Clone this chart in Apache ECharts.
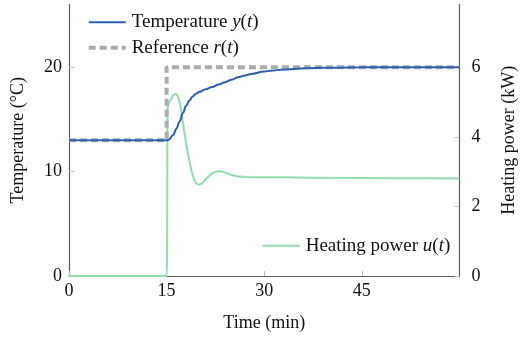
<!DOCTYPE html>
<html>
<head>
<meta charset="utf-8">
<script src="https://cdn.jsdelivr.net/npm/echarts@6/dist/echarts.min.js"></script>
<style>
  html, body { margin: 0; padding: 0; background: #fff; }
  #chart { width: 527px; height: 337px; }
</style>
</head>
<body>
<div id="chart"></div>
<script>
// time axis in minutes
var tempTime = [0, 15, 15.3, 16, 16.5, 17, 17.5, 18, 18.5, 19, 19.5, 20, 21, 22, 23, 24, 25, 26, 27, 28, 30, 31, 33, 35, 38, 40, 45, 50, 55, 60];
var tempValues = [13, 13, 13.02, 13.5, 14.1, 14.8, 15.6, 16.3, 16.8, 17.2, 17.45, 17.62, 17.88, 18.1, 18.33, 18.56, 18.8, 19.03, 19.2, 19.35, 19.58, 19.66, 19.77, 19.85, 19.92, 19.95, 19.99, 20, 20, 20];

var refTime = [0, 15, 15, 60];
var refValues = [13, 13, 20, 20];

var powerTime = [0, 15, 15.15, 15.3, 15.6, 16, 16.4, 16.8, 17.2, 17.6, 18, 18.5, 19, 19.5, 20, 20.5, 21, 22, 23, 24, 25, 26, 27, 28, 30, 35, 40, 50, 60];
var powerValues = [0, 0, 4.8, 4.95, 5.05, 5.18, 5.23, 5.12, 4.8, 4.3, 3.8, 3.3, 2.9, 2.68, 2.63, 2.67, 2.78, 2.95, 3.01, 2.97, 2.9, 2.86, 2.85, 2.84, 2.84, 2.83, 2.82, 2.81, 2.8];

function pairs(xs, ys) {
    return xs.map(function (x, i) { return [x, ys[i]]; });
}

var font = 'Liberation Serif';
var axisColor = '#5a5a5a';
var tickColor = '#c0c0c0';
var rich = {
    n: { fontFamily: font, fontSize: 19, color: '#111' },
    i: { fontFamily: font, fontSize: 19, fontStyle: 'italic', color: '#111' }
};
var labels = {
    'Temperature': '{n|Temperature }{i|y}{n|(}{i|t}{n|)}',
    'Reference': '{n|Reference }{i|r}{n|(}{i|t}{n|)}',
    'Heating power': '{n|Heating power }{i|u}{n|(}{i|t}{n|)}'
};

var myChart = echarts.init(document.getElementById('chart'));
var option = {
    animation: false,
    grid: { left: 69, right: 67.6, top: 4.5, bottom: 60.3 },
    legend: [
        {
            data: [
                { name: 'Temperature', lineStyle: { width: 2 } },
                { name: 'Reference', lineStyle: { width: 4, type: [7, 4] } }
            ],
            orient: 'vertical',
            left: 86.7, top: 12.3,
            padding: 0,
            itemWidth: 37, itemHeight: 14, itemGap: 5.4,
            itemStyle: { opacity: 0 },
            formatter: function (name) { return labels[name]; },
            textStyle: { rich: rich, lineHeight: 20, padding: [0, 0, 0, 1] }
        },
        {
            data: [{ name: 'Heating power', lineStyle: { width: 2 } }],
            left: 261.7, top: 235.7,
            padding: 0,
            itemWidth: 37, itemHeight: 14,
            itemStyle: { opacity: 0 },
            formatter: function (name) { return labels[name]; },
            textStyle: { rich: rich, lineHeight: 20, padding: [0, 0, 0, 1] }
        }
    ],
    xAxis: {
        type: 'value',
        min: 0, max: 60, interval: 15,
        name: 'Time (min)',
        nameLocation: 'middle',
        nameGap: 38,
        nameTextStyle: { fontFamily: font, fontSize: 18, color: '#111' },
        splitLine: { show: false },
        axisLine: { lineStyle: { color: axisColor, width: 1.2 } },
        axisTick: { inside: true, length: 5, lineStyle: { color: tickColor } },
        axisLabel: { showMaxLabel: false, margin: 6, fontFamily: font, fontSize: 18, color: '#111' }
    },
    yAxis: [
        {
            type: 'value',
            min: 0, max: 26, interval: 10,
            name: 'Temperature (°C)',
            nameLocation: 'middle',
            nameGap: 42,
            nameTextStyle: { fontFamily: font, fontSize: 18, color: '#111' },
            splitLine: { show: false },
            axisLine: { show: true, lineStyle: { color: axisColor, width: 1.2 } },
            axisTick: { inside: true, length: 5, lineStyle: { color: tickColor } },
            axisLabel: { showMaxLabel: false, margin: 7, fontFamily: font, fontSize: 18, color: '#111' }
        },
        {
            type: 'value',
            position: 'right',
            min: 0, max: 7.8, interval: 2,
            name: 'Heating power (kW)',
            nameLocation: 'middle',
            nameGap: 41,
            nameTextStyle: { fontFamily: font, fontSize: 18, color: '#111' },
            splitLine: { show: false },
            axisLine: { show: true, lineStyle: { color: axisColor, width: 1.2 } },
            axisTick: { inside: true, length: 5, lineStyle: { color: tickColor } },
            axisLabel: { showMaxLabel: false, margin: 12, fontFamily: font, fontSize: 18, color: '#111' }
        }
    ],
    series: [
        {
            name: 'Heating power',
            type: 'line',
            yAxisIndex: 1,
            symbol: 'none',
            smooth: 0.3,
            data: pairs(powerTime, powerValues),
            lineStyle: { color: '#92dcae', width: 2 },
            itemStyle: { color: '#92dcae' }
        },
        {
            name: 'Reference',
            type: 'line',
            symbol: 'none',
            data: pairs(refTime, refValues),
            lineStyle: { color: '#ababab', width: 4, type: [7, 4] },
            itemStyle: { color: '#ababab' }
        },
        {
            name: 'Temperature',
            type: 'line',
            symbol: 'none',
            smooth: 0.4,
            smoothMonotone: 'x',
            data: pairs(tempTime, tempValues),
            lineStyle: { color: '#2c5fb0', width: 2 },
            itemStyle: { color: '#2c5fb0' }
        }
    ]
};
myChart.setOption(option);
</script>
</body>
</html>
